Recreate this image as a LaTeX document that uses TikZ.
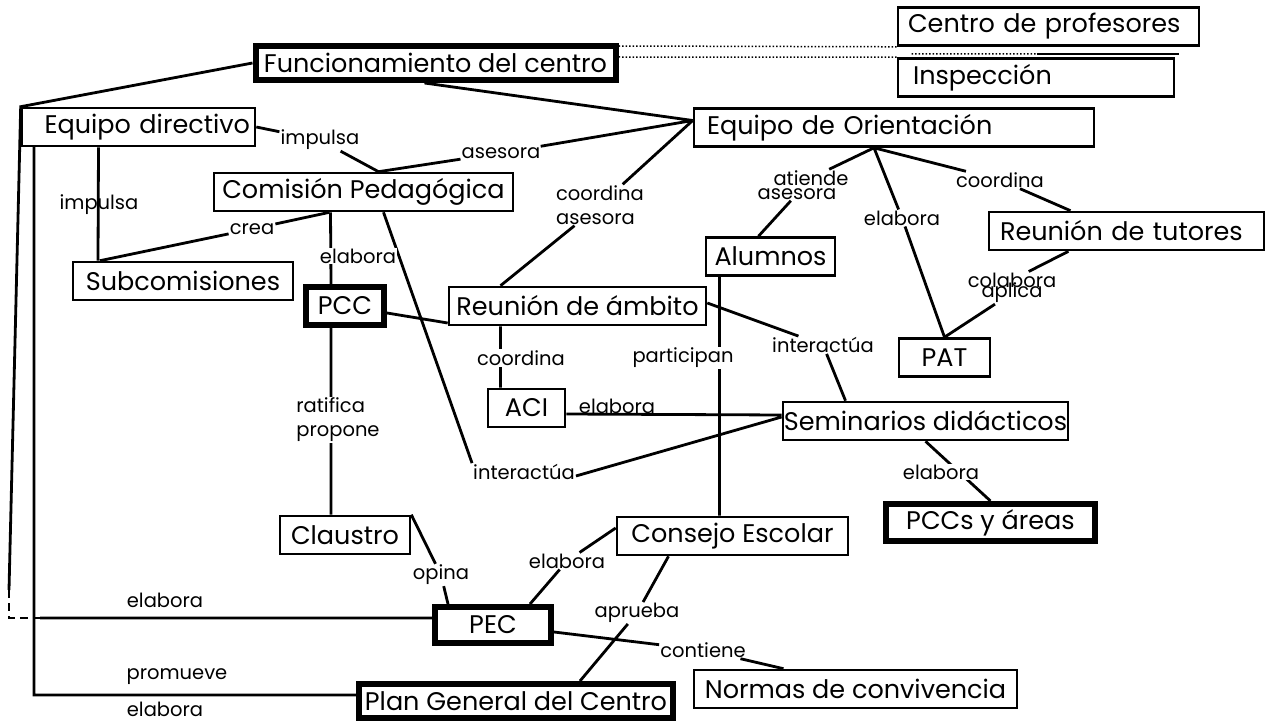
\documentclass[tikz,border=0pt]{standalone}
\usepackage{fontspec}
\setmainfont{Poppins}
\usetikzlibrary{positioning}
\pgfdeclarelayer{back}
\pgfsetlayers{back,main}
\newcommand{\boxfont}{\fontsize{25.5}{29}\selectfont}
\newcommand{\lblfont}{\fontsize{19.5}{24}\selectfont}
\begin{document}
\begin{tikzpicture}[x=1pt,y=-1pt,
 box/.style={draw,fill=white,line width=2.6pt,inner xsep=4pt,inner ysep=0pt,minimum height=38pt,font=\boxfont},
 boldbox/.style={box,line width=6pt},
 lbl/.style={inner sep=1pt,font=\lblfont},
 wlbl/.style={lbl,fill=white},
 link/.style={line width=2.8pt}]
\useasboundingbox (0,0) rectangle (1267,722);
\node[box,text width=281pt,align=left,inner xsep=10pt] (cp) at (1048.5,26.5) {Centro de profesores};
\node[box,text width=246pt,align=left,inner xsep=15pt] (in) at (1036,77.5) {Inspección};
\node[boldbox,minimum width=360pt,minimum height=34pt] (fc) at (435.5,63) {Funcionamiento del centro};
\node[box,text width=223pt,align=right,inner xsep=5pt] (ed) at (138.5,127) {Equipo directivo};
\node[box,text width=374pt,align=left,inner xsep=13pt] (eo) at (894,127.5) {Equipo de Orientación};
\node[box,minimum width=299pt] (cm) at (363.5,192) {Comisión Pedagógica};
\node[box,minimum width=220pt] (sc) at (183,281) {Subcomisiones};
\node[boldbox,minimum width=78pt,minimum height=38pt] (pcc) at (345,306) {PCC};
\node[box,minimum width=257pt] (ra) at (577.5,306) {Reunión de ámbito};
\node[box,minimum width=129pt] (al) at (770.5,256.5) {Alumnos};
\node[box,text width=253pt,align=left,inner xsep=11pt] (rt) at (1126.5,231) {Reunión de tutores};
\node[box,minimum width=91pt] (pat) at (944.5,357.5) {PAT};
\node[box,minimum width=77pt] (aci) at (526.5,408) {ACI};
\node[box,minimum width=285pt,inner xsep=1pt] (sd) at (925.5,421) {Seminarios didácticos};
\node[boldbox,minimum width=209pt,minimum height=37pt] (pcs) at (990.5,522.5) {PCCs y áreas};
\node[box,minimum width=130pt] (cl) at (345,535) {Claustro};
\node[box,minimum width=231pt] (ce) at (732.5,536) {Consejo Escolar};
\node[boldbox,minimum width=116pt,minimum height=36pt] (pec) at (493,625) {PEC};
\node[boldbox,minimum width=314pt,minimum height=34pt] (pg) at (516,701) {Plan General del Centro};
\node[box,minimum width=323pt] (nc) at (855.5,689) {Normas de convivencia};
\node[lbl] (im1) at (320,140) {impulsa};
\node[lbl] (as1) at (501,153) {asesora};
\node[lbl] (im2) at (99,205) {impulsa};
\node[lbl] (cr) at (252,229) {crea};
\node[wlbl] (el1) at (358,256) {elabora};
\node[lbl,align=left] (co1) at (600,205) {coordina\\asesora};
\node[lbl] (at) at (811,178) {atiende};
\node[lbl] (as2) at (797,194) {asesora};
\node[lbl] (el2) at (902,218) {elabora};
\node[lbl] (co2) at (1000,180) {coordina};
\node[lbl] (cb) at (1012,280) {colabora};
\node[lbl] (ap) at (1012,293) {aplica};
\node[wlbl] (co3) at (521,358) {coordina};
\node[wlbl] (pt) at (683,358) {participan};
\node[lbl] (in1) at (823,345) {interactúa};
\node[lbl] (el3) at (617,406) {elabora};
\node[lbl] (in2) at (524,472) {interactúa};
\node[wlbl,align=left] (rp) at (338,420) {ratifica\\propone};
\node[wlbl] (el4) at (941,472) {elabora};
\node[lbl] (op) at (441,575) {opina};
\node[lbl] (el5) at (567,561) {elabora};
\node[lbl] (apr) at (637,613) {aprueba};
\node[lbl] (ct) at (703,650) {contiene};
\node[lbl] (el6) at (165,600) {elabora};
\node[lbl] (pm) at (177,677) {promueve};
\node[lbl] (el7) at (165,709) {elabora};
\coordinate (k1) at (9,590);
\coordinate (k2) at (9,618);
\coordinate (k3) at (40,618);
\coordinate (k4) at (34,147);
\coordinate (k5) at (34,695);
\begin{pgfonlayer}{back}
\draw[link]
 ([xshift=-11pt]fc.south) -- ([yshift=7pt]eo.west)
 (fc.west) -- (ed.north west) -- (k1)
 (k3) -- ([yshift=7pt]pec.west)
 (k4) -- (k5) -- ([yshift=6pt]pg.west)
 (ed.east) -- (im1) -- ([xshift=15pt]cm.north)
 ([xshift=15pt]cm.north) -- (as1) -- ([yshift=7pt]eo.west)
 ([xshift=-40pt]ed.south) -- ([xshift=-85pt]sc.north)
 ([xshift=-83pt]sc.north) -- (cr) -- ([xshift=-34pt]cm.south)
 ([xshift=-33pt]cm.south) -- ([xshift=-14pt]pcc.north)
 ([xshift=-14pt]pcc.south) -- ([xshift=-14pt]cl.north)
 ([xshift=20pt]cm.south) -- (in2.north west)
 ([yshift=-4pt]in2.east) -- ([yshift=4pt]sd.west)
 ([yshift=-7pt]pcc.east) -- ([yshift=-17pt]ra.west)
 ([yshift=7pt]eo.west) -- (co1) -- ([xshift=-77pt]ra.north)
 ([xshift=-77pt]ra.south) -- ([xshift=-26pt]aci.north)
 ([yshift=3pt]ra.east) -- (in1) -- ([xshift=-80pt]sd.north)
 ([yshift=-6pt]aci.east) -- ([yshift=6pt]sd.west)
 ([xshift=-20pt]eo.south) -- (at)
 (as2) -- ([xshift=-12pt]al.north)
 ([xshift=-20pt]eo.south) -- (el2) -- (pat.north)
 ([xshift=-20pt]eo.south) -- (co2) -- ([xshift=-56pt]rt.north)
 ([xshift=-58pt]rt.south) -- (cb)
 (ap) -- (pat.north)
 ([xshift=-51pt]al.south) -- ([xshift=-13pt]ce.north)
 (sd.south) -- (pcs.north)
 (cl.north east) -- (op) -- ([xshift=-45pt]pec.north)
 ([yshift=8pt]ce.west) -- (el5) -- ([xshift=37pt]pec.north)
 ([xshift=-64pt]ce.south) -- (apr) -- ([xshift=64pt]pg.north)
 ([yshift=-7pt]pec.east) -- (ct) -- ([xshift=-72pt]nc.north);
\draw[link,dash pattern=on 8pt off 5pt] (k1) -- (k2) -- (k3);
\draw[dotted,line width=1.5pt]
 ([yshift=17pt]fc.east) -- (cp.south west)
 ([yshift=6pt]fc.east) -- (in.north west)
 ([xshift=15pt,yshift=-7pt]cp.south west) -- ([xshift=140pt,yshift=-7pt]cp.south west);
\draw[line width=1.5pt] ([xshift=140pt,yshift=-7pt]cp.south west) -- ([xshift=-21pt,yshift=-7pt]cp.south east);
\end{pgfonlayer}
\end{tikzpicture}
\end{document}
